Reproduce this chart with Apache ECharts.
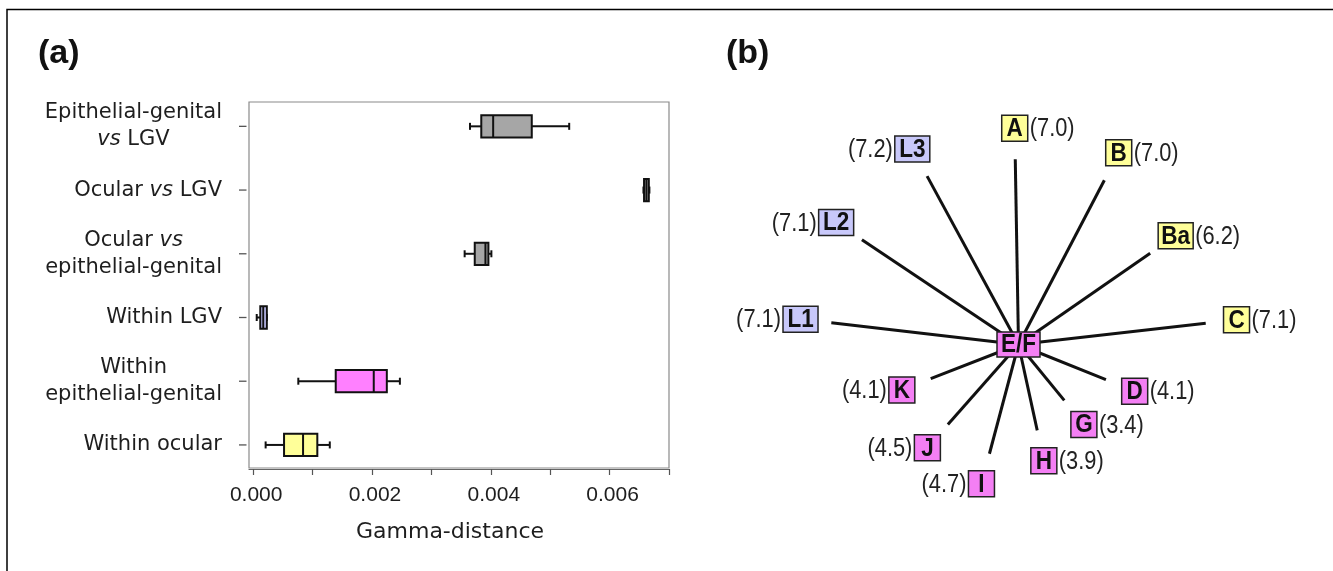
<!DOCTYPE html>
<html>
<head>
<meta charset="utf-8">
<title>Gamma-distance box plot and E/F star</title>
<script src="https://cdn.jsdelivr.net/npm/echarts@6/dist/echarts.min.js"></script>
<style>
    html, body { margin: 0; padding: 0; background: #fff; }
    #chart { width: 1333px; height: 571px; }
</style>
</head>
<body>
<div id="chart"></div>
<script>
// ---- panel (a): box plots, categories from bottom (y = 1) to top (y = 6)
const categories = [
    'Within ocular',
    'Within\nepithelial-genital',
    'Within LGV',
    'Ocular vs\nepithelial-genital',
    'Ocular vs LGV',
    'Epithelial-genital\nvs LGV'
];
const whiskerLow  = [0.00021, 0.00076, 0.00006, 0.00356, 0.00657, 0.00365];
const quartile1   = [0.00052, 0.00139, 0.00012, 0.00373, 0.00658, 0.00384];
const median      = [0.00084, 0.00203, 0.00017, 0.00391, 0.00662, 0.00404];
const quartile3   = [0.00108, 0.00225, 0.00023, 0.00396, 0.00666, 0.00469];
const whiskerHigh = [0.00129, 0.00247, 0.00023, 0.00401, 0.00667, 0.00532];
const categoryGroup = ['ocular', 'genital', 'lgv', 'between', 'between', 'between'];
const xTickValues = [0, 0.001, 0.002, 0.003, 0.004, 0.005, 0.006, 0.007];
const xLabelValues = [0, 0.002, 0.004, 0.006];
const yTickValues = [1, 2, 3, 4, 5, 6];

// ---- panel (b): genotypes around E/F, distance in brackets, angle in degrees
const hubName = 'E/F';
const nodeNames    = ['A', 'B', 'Ba', 'C', 'D', 'G', 'H', 'I', 'J', 'K', 'L1', 'L2', 'L3'];
const nodeDistance = [7.0, 7.0, 6.2, 7.1, 4.1, 3.4, 3.9, 4.7, 4.5, 4.1, 7.1, 7.1, 7.2];
const nodeAngle    = [91, 62.4, 34.7, 6.5, 338.1, 309.3, 282.3, 255.1, 228.6, 201.3, 173.4, 146.2, 118.5];
const nodeGroup    = ['ocular', 'ocular', 'ocular', 'ocular', 'genital', 'genital', 'genital',
                      'genital', 'genital', 'genital', 'lgv', 'lgv', 'lgv'];

// 颜色
const groupColors = {
    ocular: '#ffff99',
    genital: '#f47ff4',
    lgv: '#c8c8fa',
    between: '#a6a6a6'
};
const boxFill = { ocular: '#ffff99', genital: '#ff80ff', lgv: '#c8c8ff', between: '#a6a6a6' };

const HUB_RADIUS = 1.1;
const INK = '#111';
const FONT_A = '"DejaVu Sans", "Liberation Sans", sans-serif';
const FONT_ARIAL = '"Liberation Sans", Arial, sans-serif';

// 把 "vs" 变成斜体
function richLabel(text) {
    return text.split('\n').map(line =>
        line.split(/\b(vs)\b/).filter(s => s !== '').map(s =>
            s === 'vs' ? '{i|vs}' : '{n|' + s + '}'
        ).join('')
    ).join('\n');
}

function renderBox(params, api) {
    const y = api.value(5);
    const half = api.size([0, 1])[1] * 0.175;
    const cap = 3.5;
    const pLow = api.coord([api.value(0), y]);
    const pQ1 = api.coord([api.value(1), y]);
    const pMed = api.coord([api.value(2), y]);
    const pQ3 = api.coord([api.value(3), y]);
    const pHigh = api.coord([api.value(4), y]);
    const ink = { stroke: INK, lineWidth: 2 };
    const fill = boxFill[categoryGroup[params.dataIndex]];
    return {
        type: 'group',
        children: [
            { type: 'line', shape: { x1: pLow[0], y1: pLow[1], x2: pQ1[0], y2: pQ1[1] }, style: ink },
            { type: 'line', shape: { x1: pQ3[0], y1: pQ3[1], x2: pHigh[0], y2: pHigh[1] }, style: ink },
            { type: 'line', shape: { x1: pLow[0], y1: pLow[1] - cap, x2: pLow[0], y2: pLow[1] + cap }, style: ink },
            { type: 'line', shape: { x1: pHigh[0], y1: pHigh[1] - cap, x2: pHigh[0], y2: pHigh[1] + cap }, style: ink },
            {
                type: 'rect',
                shape: { x: pQ1[0], y: pQ1[1] - half, width: pQ3[0] - pQ1[0], height: half * 2 },
                style: { fill: fill, stroke: INK, lineWidth: 2 }
            },
            { type: 'line', shape: { x1: pMed[0], y1: pMed[1] - half, x2: pMed[0], y2: pMed[1] + half }, style: ink }
        ]
    };
}

// 左侧的刻度线（R 风格，和边框之间留一点空隙）
function renderYTick(params, api) {
    const p = api.coord([-0.00007, api.value(0)]);
    return {
        type: 'line',
        shape: { x1: p[0] - 10, y1: p[1], x2: p[0] - 2.5, y2: p[1] },
        style: { stroke: '#555', lineWidth: 1.3 }
    };
}

function nodeBox(cx, cy, name, color) {
    const w = name.length === 1 ? 26 : (name.length === 2 ? 35 : 43);
    const h = name.length === 3 ? 25 : 26;
    return [
        {
            type: 'rect',
            shape: { x: cx - w / 2, y: cy - h / 2, width: w, height: h },
            style: { fill: color, stroke: '#222', lineWidth: 1.5 }
        },
        {
            type: 'text',
            x: cx, y: cy + 1,
            scaleX: 0.9,
            style: {
                text: name, fill: '#111', align: 'center', verticalAlign: 'middle',
                font: 'bold 25px ' + FONT_ARIAL
            }
        }
    ];
}

function renderSpoke(params, api) {
    const i = params.dataIndex;
    const end = api.coord([api.value(0), api.value(1)]);
    const hub = api.coord([HUB_RADIUS, api.value(1)]);
    const dx = end[0] - hub[0];
    const dy = end[1] - hub[1];
    const len = Math.sqrt(dx * dx + dy * dy);
    const bx = end[0] + dx / len * 31;
    const by = end[1] + dy / len * 31;
    const name = nodeNames[i];
    const w = name.length === 1 ? 26 : 35;
    const onLeft = dx / len < -0.05;
    return {
        type: 'group',
        children: [
            {
                type: 'line',
                shape: { x1: hub[0], y1: hub[1], x2: end[0], y2: end[1] },
                style: { stroke: INK, lineWidth: 3 }
            },
            ...nodeBox(bx, by, name, groupColors[nodeGroup[i]]),
            {
                type: 'text',
                x: onLeft ? bx - w / 2 - 2 : bx + w / 2 + 2,
                y: by + 1,
                scaleX: 0.84,
                style: {
                    text: '(' + nodeDistance[i].toFixed(1) + ')',
                    fill: '#222',
                    align: onLeft ? 'right' : 'left',
                    verticalAlign: 'middle',
                    font: '26px ' + FONT_ARIAL
                }
            }
        ]
    };
}

function renderHub(params, api) {
    const p = api.coord([api.value(0), api.value(1)]);
    return { type: 'group', children: nodeBox(p[0], p[1], hubName, groupColors.genital) };
}

const chart = echarts.init(document.getElementById('chart'), null, { renderer: 'canvas' });

const option = {
    animation: false,
    backgroundColor: '#fff',
    title: [
        { text: '(a)', left: 38, top: 37, padding: 0,
          textStyle: { fontSize: 34, fontWeight: 'bold', color: '#111', fontFamily: FONT_ARIAL } },
        { text: '(b)', left: 726, top: 37, padding: 0,
          textStyle: { fontSize: 34, fontWeight: 'bold', color: '#111', fontFamily: FONT_ARIAL } }
    ],
    graphic: [{
        type: 'polyline',
        shape: { points: [[7, 571], [7, 9.5], [1333, 9.5]] },
        style: { stroke: '#000', lineWidth: 1.5, fill: null },
        silent: true
    }],
    grid: {
        left: 249, top: 102, width: 420, height: 366,
        show: true, borderColor: '#8a8a8a', borderWidth: 1.2,
        outerBoundsMode: 'none'
    },
    xAxis: {
        type: 'value',
        min: -0.00007,
        max: 0.007,
        offset: 1,
        name: 'Gamma-distance',
        nameLocation: 'middle',
        nameGap: 52,
        nameTextStyle: { fontSize: 22, color: '#1e1e1e', fontFamily: FONT_A, padding: [0, 18, 0, 0] },
        axisLine: { show: true, lineStyle: { color: '#666', width: 1.2 } },
        axisTick: { show: true, length: 6, customValues: xTickValues, lineStyle: { color: '#555', width: 1.2 } },
        axisLabel: {
            customValues: xLabelValues,
            formatter: v => v.toFixed(3),
            fontSize: 21, color: '#1e1e1e', fontFamily: FONT_ARIAL, margin: 16,
            padding: [0, 0, 0, 6]
        },
        splitLine: { show: false }
    },
    yAxis: {
        type: 'value',
        min: 0.638,
        max: 6.382,
        axisLine: { show: false },
        axisTick: { show: false },
        axisLabel: {
            customValues: yTickValues,
            margin: 27,
            formatter: v => richLabel(categories[Math.round(v) - 1]),
            rich: {
                n: { fontSize: 21, color: '#1e1e1e', fontFamily: FONT_A, align: 'center', lineHeight: 27 },
                i: { fontSize: 21, color: '#1e1e1e', fontFamily: FONT_A, fontStyle: 'italic', align: 'center', lineHeight: 27 }
            }
        },
        splitLine: { show: false }
    },
    polar: { center: [1018.5, 344.5], radius: 216.7 },
    radiusAxis: { type: 'value', min: HUB_RADIUS, max: 8, show: false },
    angleAxis: { type: 'value', min: 0, max: 360, startAngle: 0, clockwise: false, show: false },
    series: [
        {
            type: 'custom',
            name: 'ticks',
            coordinateSystem: 'cartesian2d',
            renderItem: renderYTick,
            encode: { y: 0 },
            data: yTickValues.map(v => [v]),
            clip: false,
            silent: true,
            z: 2
        },
        {
            type: 'custom',
            name: 'box',
            coordinateSystem: 'cartesian2d',
            renderItem: renderBox,
            encode: { x: [0, 1, 2, 3, 4], y: 5 },
            data: categories.map((c, i) => [whiskerLow[i], quartile1[i], median[i], quartile3[i], whiskerHigh[i], i + 1]),
            z: 3
        },
        {
            type: 'custom',
            name: 'spokes',
            coordinateSystem: 'polar',
            renderItem: renderSpoke,
            encode: { radius: 0, angle: 1 },
            data: nodeNames.map((n, i) => [nodeDistance[i], nodeAngle[i]]),
            z: 2
        },
        {
            type: 'custom',
            name: 'hub',
            coordinateSystem: 'polar',
            renderItem: renderHub,
            encode: { radius: 0, angle: 1 },
            data: [[HUB_RADIUS, 0]],
            z: 4
        }
    ]
};

chart.setOption(option);
</script>
</body>
</html>
